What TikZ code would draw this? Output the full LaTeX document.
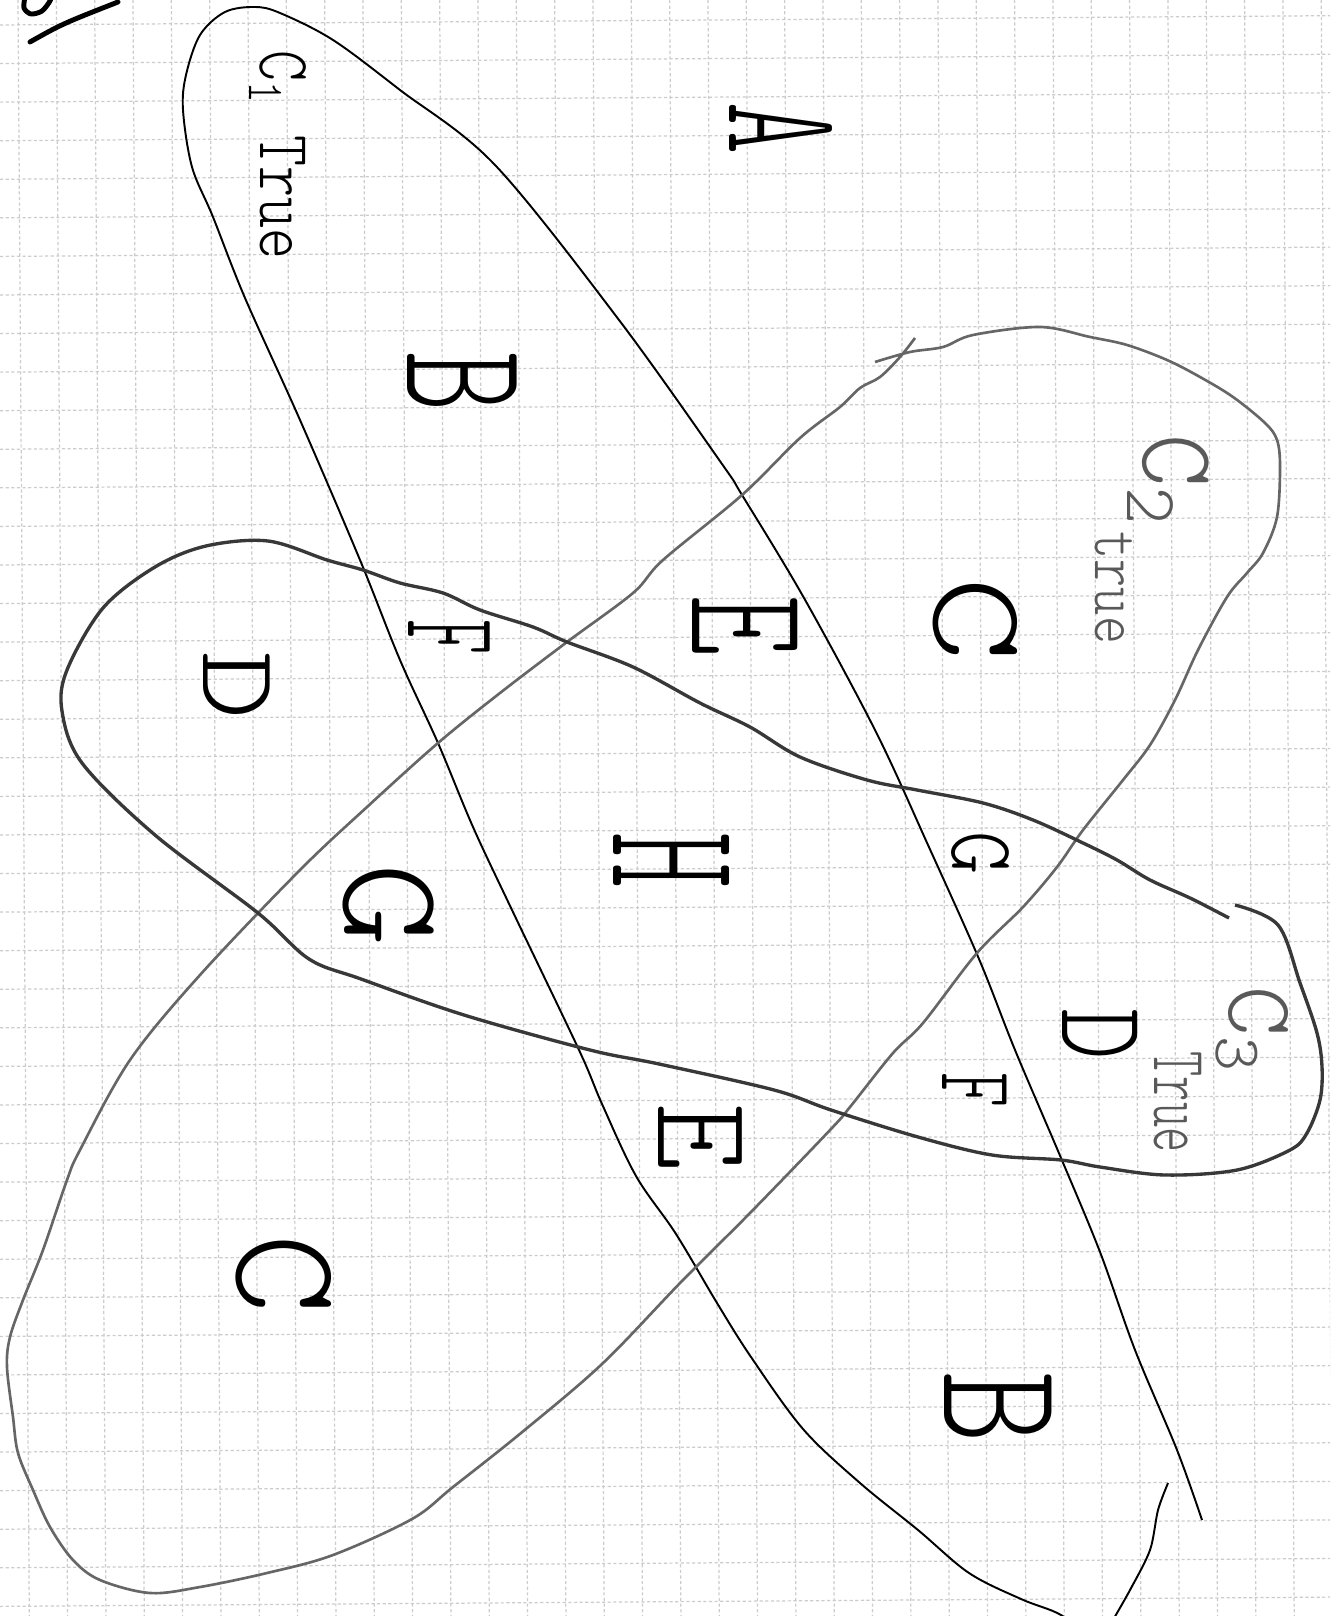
\documentclass[tikz,border=0pt]{standalone}
\usepackage{graphicx}
\usepackage{fontspec}
\newfontfamily\lmlight{lmmonolt10-regular.otf}
\newcommand\handlet[3]{\fontsize{#1}{#1}\lmlight\selectfont\scalebox{#2}[1]{#3}}
\tikzset{
  gridline/.style={gray!40, line width=0.35pt, dash pattern=on 0.9pt off 0.7pt},
  setone/.style={black, line width=0.55pt},
  settwo/.style={black!60, line width=0.75pt},
  setthree/.style={black!78, line width=0.95pt},
  hand/.style={rotate=-90, inner sep=0pt, text=black},
  lblgray/.style={rotate=-90, inner sep=0pt, text=black!65},
  penstroke/.style={black, line width=1.4pt, line cap=round}
}
\begin{document}
\begin{tikzpicture}[x=0.01cm,y=-0.01cm]
\useasboundingbox (0,0) rectangle (1330,1616);
\fill[white] (0,0) rectangle (1330,1616);
\begin{scope}
\clip (0,0) rectangle (1330,1616);
% grid paper
\foreach \i in {-1,...,34} \draw[gridline] ({18+38.33*\i},0) -- ({29.3+38.33*\i},1616);
\foreach \j in {0,...,42} \draw[gridline] (0,{25+38.57*\j}) -- (1330,{15.7+38.57*\j});

% set C1
\draw[setone] plot[smooth, tension=0.55] coordinates {
(1202,1520) (1177,1450) (1135,1350) (1100,1252) (1061,1158) (1015,1050) (979,959) (928,845) (876,732) (804,598) (742,495) (722,464) (619,320) (495,165) (400,90) (333,40) (280,13) (255,7) (225,12) (200,35) (186,75) (183,110) (192,167) (213,217) (245,298) (300,420) (360,560) (400,660) (438,743) (473,827) (512,910) (579,1050) (602,1104) (636,1176) (676,1234) (717,1303) (751,1357) (803,1429) (860,1483) (918,1530) (969,1573) (1021,1599) (1061,1615) (1090,1640)};
\draw[setone] plot[smooth] coordinates {(1168,1483) (1158,1510) (1150,1550) (1130,1590) (1110,1625)};

% set C2
\draw[settwo] plot[smooth, tension=0.55] coordinates {
(875,362) (910,352) (943,347) (973,335) (1040,327) (1090,337) (1127,345) (1167,360) (1200,377) (1233,397) (1265,423) (1277,440) (1280,467) (1277,517) (1263,553) (1247,573) (1227,597) (1198,650) (1175,700) (1150,745) (1123,780) (1083,830) (1057,867) (1023,907) (977,953) (923,1023) (893,1053) (850,1107) (831,1129) (751,1212) (682,1281) (602,1364) (521,1433) (453,1487) (412,1519) (333,1555) (267,1573) (200,1587) (150,1593) (100,1580) (73,1560) (50,1527) (33,1490) (18,1453) (13,1417) (7,1367) (10,1337) (23,1300) (43,1250) (67,1180) (80,1150) (130,1060) (200,975) (300,870) (367,807) (438,743) (500,693) (567,642) (633,593) (663,560) (742,495) (800,438) (840,407) (860,388) (880,377) (900,357) (915,338)};

% set C3
\draw[setthree] plot[smooth, tension=0.55] coordinates {
(1235,905) (1278,925) (1300,983) (1317,1033) (1322,1067) (1320,1100) (1307,1133) (1290,1150) (1237,1170) (1165,1175) (1100,1167) (1061,1160) (992,1155) (918,1137) (831,1110) (774,1090) (659,1064) (590,1050) (464,1015) (361,979) (309,959) (258,913) (155,835) (82,763) (62,711) (67,670) (103,608) (155,567) (206,546) (268,541) (327,560) (363,570) (400,583) (443,593) (480,610) (533,627) (567,642) (633,667) (700,703) (750,727) (800,757) (867,780) (917,790) (983,803) (1033,820) (1083,843) (1117,860) (1150,880) (1190,898) (1229,918)};

% corner marks
\draw[penstroke] plot[smooth] coordinates {(25,-3) (24,8) (31,14) (42,11) (50,1) (52,-6)};
\draw[penstroke] (30,42) .. controls (62,24) .. (118,2);
\end{scope}

% labels of the sets
\node[hand, text=black] (lone) at (278,155) {\handlet{21}{0.8}{C\textsubscript{1} True}};
\node[lblgray] (ltwoa) at (1168,480) {\handlet{30}{0.95}{C\textsubscript{2}}};
\node[lblgray] (ltwob) at (1114,588) {\handlet{19}{0.8}{true}};
\node[lblgray] (lthreea) at (1252,1030) {\handlet{27}{1}{C\textsubscript{3}}};
\node[lblgray] (lthreeb) at (1178,1102) {\handlet{22}{0.62}{True}};

% elements
\node[hand] (eA) at (781,129) {\handlet{47}{0.6}{A}};
\node[hand] (eB1) at (462,382) {\handlet{51}{0.64}{B}};
\node[hand] (eE1) at (745,626) {\handlet{49}{0.67}{E}};
\node[hand] (eC1) at (975,620) {\handlet{38}{1.2}{C}};
\node[hand] (eF1) at (449,637) {\handlet{38}{0.5}{F}};
\node[hand] (eD1) at (237,686) {\handlet{31}{1.2}{D}};
\node[hand] (eH) at (672,860) {\handlet{54}{0.56}{H}};
\node[hand] (eG1) at (389,905) {\handlet{41}{1.1}{G}};
\node[hand] (eG2) at (980,853) {\handlet{26}{0.9}{G}};
\node[hand] (eD2) at (1100,1034) {\handlet{35}{0.8}{D}};
\node[hand] (eF2) at (975,1090) {\handlet{30}{0.63}{F}};
\node[hand] (eE2) at (700,1137) {\handlet{39}{0.93}{E}};
\node[hand] (eC2) at (284,1274) {\handlet{43}{1}{C}};
\node[hand] (eB2) at (998,1407) {\handlet{50}{0.78}{B}};
\end{tikzpicture}
\end{document}
